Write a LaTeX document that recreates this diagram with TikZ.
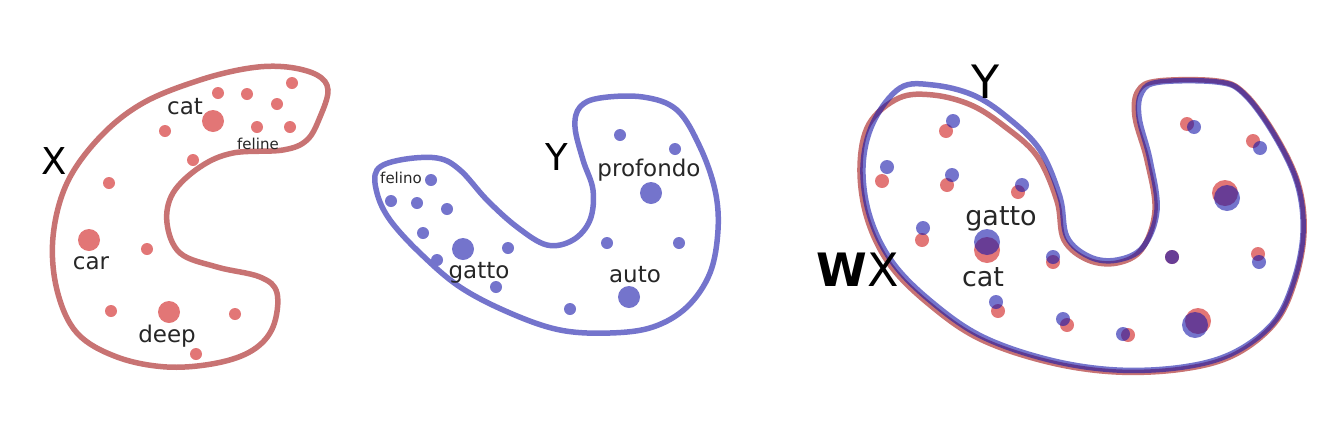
\documentclass[tikz,border=0pt]{standalone}
\usepackage{fontspec}
\setmainfont{DejaVu Sans}
\definecolor{xred}{RGB}{200,115,115}
\definecolor{xreddot}{RGB}{226,118,118}
\definecolor{yblue}{RGB}{116,116,204}
\definecolor{ydeep}{RGB}{23,23,170}
\tikzset{
  redline/.style={draw=xred, line width=5.5pt},
  blueline/.style={draw=yblue, line width=5.5pt},
  overline/.style={draw=ydeep, opacity=0.6, line width=5.5pt},
  word/.style={inner sep=0pt, text=black!85, font=\fontsize{23}{23}\selectfont},
  bigword/.style={word, font=\fontsize{27}{27}\selectfont},
  tinyword/.style={word, font=\fontsize{15}{15}\selectfont},
  space/.style={inner sep=0pt, text=black, font=\fontsize{37}{37}\selectfont},
  bigspace/.style={space, font=\fontsize{46}{46}\selectfont}
}
\begin{document}
\begin{tikzpicture}[x=1pt,y=-1pt]
  \useasboundingbox (0,0) rectangle (1336,421);
  % X: the red C
  \draw[redline] plot[smooth cycle, tension=0.6] coordinates {
    (287,67) (317,75) (328,90) (320,117) (307,140) (283,150) (233,153)
    (200,167) (173,193) (167,223) (180,253) (217,267) (260,277) (277,293)
    (273,327) (253,350) (217,363) (167,367) (117,357) (77,333) (57,290)
    (53,237) (67,183) (100,137) (143,103) (200,80) (250,68)};
  \foreach \x/\y in {292/83, 218/93, 247/94, 277/104, 165/131, 257/127,
      290/127, 193/160, 109/183, 147/249, 111/311, 235/314, 196/354}
    \fill[xreddot] (\x,\y) circle (6pt);
  \foreach \x/\y in {213/121, 89/240, 169/312}
    \fill[xreddot] (\x,\y) circle (11pt);
  \node[space] (x) at (54,161) {X};
  \node[word] (cat) at (185,107) {cat};
  \node[tinyword] (feline) at (258,144) {feline};
  \node[word] (car) at (91,263) {car};
  \node[word] (deep) at (167,336) {deep};
  % Y: the blue U
  \draw[blueline] plot[smooth cycle, tension=0.6] coordinates {
    (377,170) (400,160) (437,158) (460,170) (487,200) (517,227) (547,245)
    (573,240) (590,220) (593,190) (583,160) (575,127) (580,107) (600,98)
    (643,97) (677,110) (700,147) (715,190) (718,230) (710,273) (687,307)
    (653,327) (610,333) (560,330) (510,313) (460,287) (420,253) (390,220)
    (377,193)};
  \foreach \x/\y in {620/135, 675/149, 431/180, 391/201, 417/203, 447/209,
      423/233, 508/248, 437/260, 496/287, 607/243, 679/243, 570/309}
    \fill[yblue] (\x,\y) circle (6pt);
  \foreach \x/\y in {463/249, 651/193, 629/297}
    \fill[yblue] (\x,\y) circle (11pt);
  \node[space] (y) at (557,157) {Y};
  \node[tinyword] (felino) at (401,178) {felino};
  \node[word] (profondo) at (649,170) {profondo};
  \node[word] (gatto) at (479,273) {gatto};
  \node[word] (auto) at (635,275) {auto};
  % WX over Y
  \draw[redline] plot[smooth cycle, tension=0.6] coordinates {
    (899,98) (933,95) (971,105) (1004,126) (1037,156) (1057,201) (1064,240)
    (1088,260) (1117,263) (1142,249) (1155,210) (1147,160) (1135,117) (1138,91)
    (1158,81) (1217,81) (1244,93) (1274,133) (1298,183) (1304,233) (1294,284)
    (1274,324) (1234,355) (1183,369) (1116,372) (1048,362) (980,339) (930,305)
    (890,265) (867,218) (860,167) (869,124)};
  \foreach \x/\y in {946/131, 882/181, 947/185, 1018/192, 922/240, 1053/262,
      998/311, 1067/325, 1128/335, 1172/257, 1258/254, 1187/124, 1253/141}
    \fill[xreddot] (\x,\y) circle (7pt);
  \foreach \x/\y in {987/250, 1198/321, 1225/193}
    \fill[xreddot] (\x,\y) circle (13pt);
  \draw[overline] plot[smooth cycle, tension=0.6] coordinates {
    (900,88) (933,85) (973,95) (1007,117) (1040,150) (1060,197) (1067,237)
    (1090,257) (1117,260) (1143,247) (1157,210) (1150,160) (1139,117) (1142,92)
    (1160,82) (1217,82) (1243,93) (1273,133) (1297,183) (1303,233) (1293,283)
    (1273,323) (1233,353) (1183,367) (1117,370) (1050,360) (983,337) (933,303)
    (893,263) (870,217) (863,167) (873,123)};
  \foreach \x/\y in {953/121, 887/167, 952/175, 1022/185, 923/228, 1053/257,
      996/302, 1063/319, 1123/334, 1172/257, 1259/262, 1194/127, 1260/148}
    \fill[ydeep, opacity=0.6] (\x,\y) circle (7pt);
  \foreach \x/\y in {987/242, 1195/325, 1227/198}
    \fill[ydeep, opacity=0.6] (\x,\y) circle (13pt);
  \node[bigspace] (y2) at (986,82) {Y};
  \node[bigspace] (wx) at (858,270) {\textbf{W}X};
  \node[bigword] (gatto2) at (1001,219) {gatto};
  \node[bigword] (cat2) at (983,277) {cat};
\end{tikzpicture}
\end{document}
